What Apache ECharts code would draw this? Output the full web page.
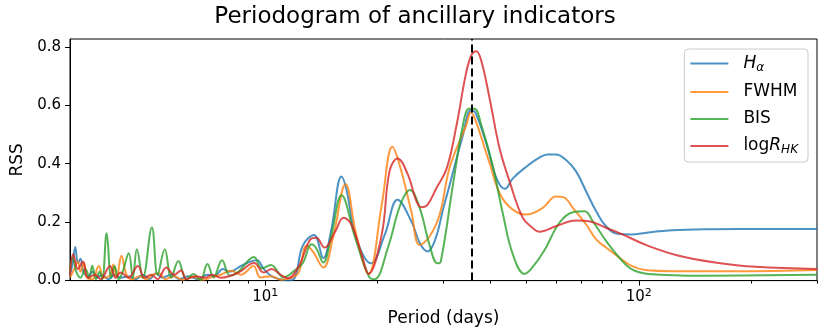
<!DOCTYPE html>
<html lang="en">
<head>
<meta charset="UTF-8">
<title>Periodogram of ancillary indicators</title>
<script src="https://cdn.jsdelivr.net/npm/echarts@6/dist/echarts.min.js"></script>
<style>
  html, body { margin: 0; padding: 0; background: #fff; }
  #main { width: 830px; height: 332px; }
</style>
</head>
<body>
<div id="main"></div>
<script>
// period (days), RSS
var halpha = [[3.0,0.02],[3.05,0.06],[3.1,0.115],[3.15,0.06],[3.2,0.075],[3.26,0.03],[3.35,0.015],[3.45,0.03],[3.55,0.01],[3.65,0.02],[3.8,0.005],[3.95,0.02],[4.1,0.01],[4.3,0.015],[4.5,0.005],[4.7,0.02],[4.9,0.005],[5.1,0.025],[5.3,0.01],[5.6,0.02],[5.9,0.005],[6.2,0.015],[6.6,0.005],[7.0,0.02],[7.3,0.015],[7.7,0.04],[8.0,0.03],[8.6,0.05],[9.1,0.065],[9.5,0.07],[9.9,0.04],[10.4,0.015],[10.9,0.005],[11.5,0.0],[12.0,0.01],[12.6,0.12],[13.5,0.156],[14.3,0.077],[15.0,0.17],[16.0,0.356],[16.5,0.31],[17.5,0.147],[19.2,0.059],[20.9,0.158],[22.6,0.277],[24.6,0.203],[26.0,0.125],[27.2,0.1],[28.5,0.14],[30,0.25],[31.2,0.33],[33.8,0.497],[35.5,0.582],[36.5,0.575],[39.2,0.463],[41.6,0.35],[43.8,0.314],[46,0.35],[50,0.39],[54,0.42],[57,0.432],[60,0.432],[64,0.412],[68,0.373],[72.3,0.305],[76.9,0.237],[81.7,0.186],[87.8,0.16],[95,0.158],[106,0.165],[123,0.172],[151,0.176],[185,0.177],[300,0.177]];
var fwhm = [[3.0,0.01],[3.08,0.04],[3.15,0.065],[3.2,0.03],[3.27,0.06],[3.33,0.01],[3.45,0.005],[3.58,0.05],[3.7,0.01],[3.85,0.02],[3.92,0.055],[4.0,0.01],[4.12,0.085],[4.25,0.02],[4.4,0.005],[4.6,0.015],[4.8,0.005],[5.0,0.02],[5.2,0.025],[5.4,0.005],[5.7,0.015],[6.0,0.003],[6.4,0.012],[6.8,0.003],[7.2,0.012],[7.6,0.02],[8.1,0.034],[8.6,0.02],[9.3,0.05],[9.7,0.011],[10.4,0.015],[11.0,0.003],[11.8,0.01],[12.3,0.03],[12.9,0.119],[13.4,0.1],[14.3,0.045],[15.2,0.15],[16.4,0.33],[17.5,0.16],[18.9,0.023],[20.5,0.26],[21.9,0.458],[22.9,0.395],[24.6,0.237],[25.9,0.122],[27.5,0.15],[29.3,0.226],[31.2,0.39],[34.5,0.531],[35.5,0.575],[36.5,0.55],[39.9,0.4],[42.6,0.294],[46,0.243],[50,0.226],[55.3,0.249],[60,0.288],[63,0.285],[66.6,0.249],[72.3,0.192],[76.9,0.141],[81.7,0.113],[88.6,0.079],[95.3,0.051],[104,0.036],[123,0.032],[185,0.032],[300,0.036]];
var bis = [[3.0,0.03],[3.05,0.08],[3.12,0.03],[3.2,0.01],[3.3,0.04],[3.38,0.01],[3.44,0.051],[3.52,0.005],[3.6,0.03],[3.66,0.005],[3.76,0.162],[3.87,0.01],[3.95,0.05],[4.05,0.005],[4.15,0.03],[4.31,0.094],[4.42,0.01],[4.53,0.107],[4.7,0.01],[4.97,0.182],[5.15,0.02],[5.38,0.107],[5.6,0.01],[5.85,0.067],[6.15,0.005],[6.42,0.023],[6.7,0.002],[7.0,0.057],[7.27,0.011],[7.66,0.07],[8.04,0.017],[8.46,0.03],[9.33,0.081],[9.78,0.042],[10.35,0.053],[11.2,0.011],[12.0,0.035],[12.6,0.06],[13.3,0.124],[13.7,0.11],[14.3,0.062],[15.0,0.15],[16.0,0.292],[17.4,0.147],[19.0,0.011],[19.6,0.005],[21.3,0.113],[23.0,0.26],[24.4,0.31],[25.9,0.249],[27.5,0.124],[28.9,0.059],[29.5,0.065],[31.8,0.328],[33.8,0.53],[35.1,0.588],[36.3,0.588],[37.9,0.531],[40.6,0.395],[43.3,0.226],[46,0.09],[49.4,0.023],[51.5,0.04],[55.8,0.102],[61.3,0.198],[66.6,0.234],[71.6,0.237],[75.3,0.203],[81.7,0.136],[88.6,0.079],[95.3,0.04],[106,0.023],[150,0.017],[300,0.02]];
var logrhk = [[3.0,0.02],[3.06,0.09],[3.15,0.04],[3.25,0.065],[3.35,0.01],[3.5,0.02],[3.62,0.005],[3.84,0.05],[3.97,0.01],[4.1,0.028],[4.3,0.01],[4.56,0.05],[4.75,0.01],[4.95,0.02],[5.15,0.005],[5.43,0.045],[5.7,0.02],[5.95,0.035],[6.15,0.005],[6.5,0.015],[6.9,0.01],[7.2,0.02],[7.6,0.01],[8.0,0.015],[8.5,0.028],[9.33,0.06],[9.9,0.028],[10.4,0.04],[11.0,0.02],[11.5,0.008],[12.3,0.05],[13.2,0.141],[13.7,0.147],[14.4,0.113],[15.4,0.169],[16.2,0.215],[17.0,0.192],[18.1,0.09],[18.9,0.023],[20.5,0.158],[21.5,0.373],[22.6,0.418],[24.1,0.362],[25.4,0.271],[26.2,0.251],[27.2,0.26],[28.7,0.316],[30.6,0.384],[32.5,0.531],[34.5,0.712],[35.7,0.774],[36.7,0.785],[37.9,0.751],[39.9,0.621],[42.4,0.452],[45.1,0.339],[48.9,0.215],[52,0.18],[54.2,0.167],[60,0.186],[68,0.206],[73.6,0.203],[81.7,0.181],[90.4,0.158],[106,0.119],[128,0.085],[160,0.062],[206,0.047],[300,0.04]];

var seriesNames = ['Ha', 'FWHM', 'BIS', 'logRHK'];
var peakPeriod = 35.8;
var yTicks = [0, 0.2, 0.4, 0.6, 0.8];
var xMajor = [10, 100];
var xMinor = [4, 5, 6, 7, 8, 9, 20, 30, 40, 50, 60, 70, 80, 90, 200, 300];

var FONT = 'DejaVu Sans';
var colors = ['rgba(31,119,180,0.8)', 'rgba(255,127,14,0.8)', 'rgba(44,160,44,0.8)', 'rgba(214,39,40,0.8)'];
var allData = [halpha, fwhm, bis, logrhk];

var myChart = echarts.init(document.getElementById('main'), null, {renderer: 'canvas'});

var legendLabels = {
    'Ha': '{i|H}{sub|α}',
    'FWHM': '{n|FWHM}',
    'BIS': '{n|BIS}',
    'logRHK': '{n|log}{i|R}{sub|HK}'
};

var series = [];
for (var i = 0; i < seriesNames.length; i++) {
    var s = {
        name: seriesNames[i],
        type: 'line',
        data: allData[i],
        smooth: 0.4,
        symbol: 'none',
        color: colors[i],
        lineStyle: {width: 2, color: colors[i]},
        z: 2 + i
    };
    series.push(s);
}
// vertical dashed line at the common peak
series[3].markLine = {
    silent: true,
    symbol: ['none', 'none'],
    label: {show: false},
    lineStyle: {color: '#000', width: 2, type: [8, 4]},
    data: [{xAxis: peakPeriod}],
    z: 10
};

var option = {
    animation: false,
    backgroundColor: '#fff',
    textStyle: {fontFamily: FONT},
    graphic: [{
        type: 'text',
        x: 415,
        y: 17,
        style: {
            text: 'Periodogram of ancillary indicators',
            font: '23px "DejaVu Sans"',
            fill: '#000',
            align: 'center',
            verticalAlign: 'middle'
        }
    }],
    grid: {
        left: 70, right: 13, top: 39, bottom: 49,
        show: true, borderColor: '#000', borderWidth: 1,
        containLabel: false
    },
    legend: {
        right: 22,
        top: 49,
        orient: 'vertical',
        selectedMode: false,
        data: seriesNames,
        icon: 'path://M0,0H38V2H0ZM48,0H48.01V0.01H48Z',
        itemWidth: 48,
        itemHeight: 20,
        itemGap: 10,
        padding: [6, 10, 6, 6],
        borderColor: '#cccccc',
        borderWidth: 1,
        borderRadius: 4,
        backgroundColor: 'rgba(255,255,255,0.8)',
        formatter: function (name) { return legendLabels[name]; },
        textStyle: {
            fontFamily: FONT,
            fontSize: 17,
            color: '#000',
            rich: {
                n: {fontFamily: FONT, fontSize: 17, lineHeight: 20, color: '#000'},
                i: {fontFamily: FONT, fontSize: 17, fontStyle: 'italic', lineHeight: 20, color: '#000'},
                sub: {fontFamily: FONT, fontSize: 12, fontStyle: 'italic', lineHeight: 12, verticalAlign: 'bottom', color: '#000'}
            }
        }
    },
    xAxis: [{
        type: 'log',
        logBase: 10,
        min: 3,
        max: 300,
        name: 'Period (days)',
        nameLocation: 'middle',
        nameGap: 28,
        nameTextStyle: {fontFamily: FONT, fontSize: 17, color: '#000'},
        axisLine: {show: true, lineStyle: {color: '#000', width: 1}},
        axisTick: {show: true, customValues: xMajor, length: 5, lineStyle: {color: '#000', width: 1}},
        axisLabel: {
            customValues: xMajor,
            margin: 7,
            color: '#000',
            fontFamily: FONT,
            fontSize: 15,
            formatter: function (v) {
                return '{b|10}{sup|' + Math.round(Math.log10(v)) + '}';
            },
            rich: {
                b: {fontFamily: FONT, fontSize: 15, lineHeight: 20, color: '#000'},
                sup: {fontFamily: FONT, fontSize: 11, lineHeight: 11, verticalAlign: 'top', color: '#000'}
            }
        },
        splitLine: {show: false}
    }, {
        type: 'log',
        logBase: 10,
        min: 3,
        max: 300,
        position: 'bottom',
        axisLine: {show: false},
        axisTick: {show: true, customValues: xMinor, length: 3, lineStyle: {color: '#000', width: 1}},
        axisLabel: {show: false},
        splitLine: {show: false}
    }],
    yAxis: {
        type: 'value',
        min: 0,
        max: 0.827,
        name: 'RSS',
        nameLocation: 'middle',
        nameGap: 38,
        nameTextStyle: {fontFamily: FONT, fontSize: 17, color: '#000'},
        axisLine: {show: true, lineStyle: {color: '#000', width: 1}},
        axisTick: {show: true, customValues: yTicks, length: 5, lineStyle: {color: '#000', width: 1}},
        axisLabel: {
            customValues: yTicks,
            margin: 9,
            color: '#000',
            fontFamily: FONT,
            fontSize: 15,
            formatter: function (v) { return v.toFixed(1); }
        },
        splitLine: {show: false}
    },
    series: series
};

if (option && typeof option === 'object') {
    myChart.setOption(option);
}
</script>
</body>
</html>
